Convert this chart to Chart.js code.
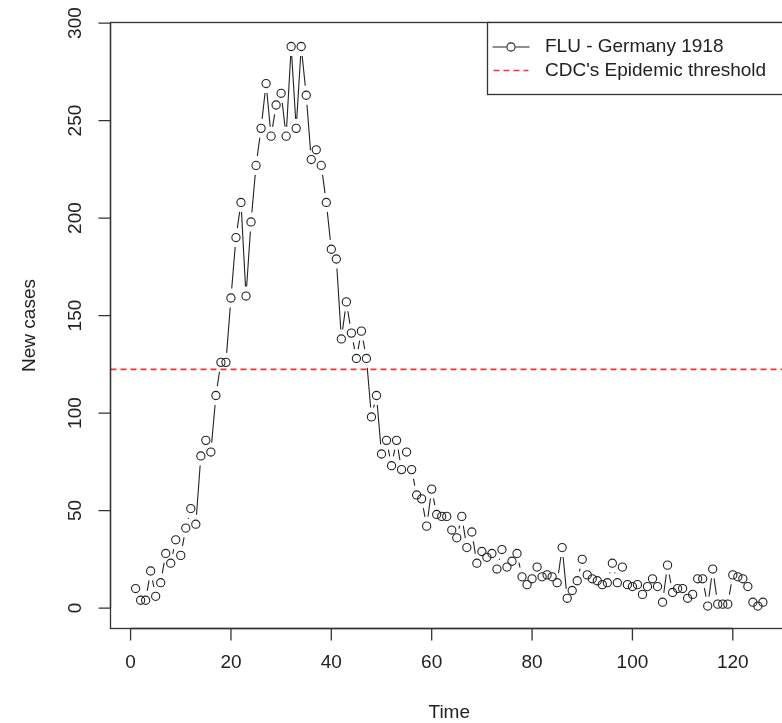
<!DOCTYPE html>
<html>
<head>
<meta charset="utf-8">
<title>FLU - Germany 1918</title>
<script src="https://cdn.jsdelivr.net/npm/chart.js@4.4.1/dist/chart.umd.min.js"></script>
<style>
  html, body { margin: 0; padding: 0; background: #fff; overflow: hidden; }
  #wrap { position: absolute; left: 0; top: 0; width: 800px; height: 723px; }
</style>
</head>
<body>
<div id="wrap"><canvas id="flu" width="800" height="723"></canvas></div>
<script>
// semanas (indice de la serie temporal)
const weeks = Array.from({ length: 126 }, (_, i) => i + 1);

// casos nuevos por semana
const newCases = [
  10, 4, 4, 19, 6, 13, 28, 23, 35, 27,
  41, 51, 43, 78, 86, 80, 109, 126, 126, 159,
  190, 208, 160, 198, 227, 246, 269, 242, 258, 264,
  242, 288, 246, 288, 263, 230, 235, 227, 208, 184,
  179, 138, 157, 141, 128, 142, 128, 98, 109, 79,
  86, 73, 86, 71, 80, 71, 58, 56, 42, 61,
  48, 47, 47, 40, 36, 47, 31, 39, 23, 29,
  26, 28, 20, 30, 21, 24, 28, 16, 12, 15,
  21, 16, 17, 16, 13, 31, 5, 9, 14, 25,
  17, 15, 14, 12, 13, 23, 13, 21, 12, 11,
  12, 7, 11, 15, 11, 3, 22, 8, 10, 10,
  5, 7, 15, 15, 1, 20, 2, 2, 2, 17,
  16, 15, 11, 3, 1, 3
];

const epidemicThreshold = 122.4;

const xTicks = [0, 20, 40, 60, 80, 100, 120];
const yTicks = [0, 50, 100, 150, 200, 250, 300];
const xRange = [-4, 131];
const yRange = [-10.5, 300.3];

const seriesLabel = 'FLU - Germany 1918';
const thresholdLabel = "CDC's Epidemic threshold";
const xTitle = 'Time';
const yTitle = 'New cases';

const FONT = '"Liberation Sans", Arial, Helvetica, sans-serif';
const INK = '#222';
const RED = '#ff3030';

// lineas tipo "b" de R: segmentos con hueco alrededor de cada punto
const segmentosB = {
  id: 'segmentosB',
  beforeDatasetsDraw(chart) {
    const pts = chart.getDatasetMeta(0).data;
    const gap = 9.5;
    const ctx = chart.ctx;
    ctx.save();
    ctx.strokeStyle = INK;
    ctx.lineWidth = 1.1;
    ctx.beginPath();
    for (let i = 1; i < pts.length; i++) {
      const a = pts[i - 1], b = pts[i];
      const dx = b.x - a.x, dy = b.y - a.y;
      const len = Math.hypot(dx, dy);
      if (len <= 2 * gap) continue;
      const ux = dx / len, uy = dy / len;
      ctx.moveTo(a.x + ux * gap, a.y + uy * gap);
      ctx.lineTo(b.x - ux * gap, b.y - uy * gap);
    }
    ctx.stroke();
    ctx.restore();
  }
};

// ejes, caja y leyenda al estilo de R base
const ejesR = {
  id: 'ejesR',
  afterDraw(chart) {
    const ctx = chart.ctx;
    const area = chart.chartArea;
    const sx = chart.scales.x, sy = chart.scales.y;
    ctx.save();
    ctx.strokeStyle = '#333';
    ctx.lineWidth = 1.3;
    ctx.strokeRect(area.left, area.top, area.right - area.left, area.bottom - area.top);

    ctx.fillStyle = INK;
    ctx.font = '19px ' + FONT;

    // eje x
    ctx.beginPath();
    ctx.moveTo(sx.getPixelForValue(xTicks[0]), area.bottom);
    ctx.lineTo(sx.getPixelForValue(xTicks[xTicks.length - 1]), area.bottom);
    xTicks.forEach(v => {
      const px = sx.getPixelForValue(v);
      ctx.moveTo(px, area.bottom);
      ctx.lineTo(px, area.bottom + 12);
    });
    ctx.stroke();
    ctx.textAlign = 'center';
    ctx.textBaseline = 'middle';
    xTicks.forEach(v => ctx.fillText(String(v), sx.getPixelForValue(v), area.bottom + 34));

    // eje y
    ctx.beginPath();
    ctx.moveTo(area.left, sy.getPixelForValue(yTicks[0]));
    ctx.lineTo(area.left, sy.getPixelForValue(yTicks[yTicks.length - 1]));
    yTicks.forEach(v => {
      const py = sy.getPixelForValue(v);
      ctx.moveTo(area.left, py);
      ctx.lineTo(area.left - 12, py);
    });
    ctx.stroke();
    yTicks.forEach(v => {
      ctx.save();
      ctx.translate(area.left - 35, sy.getPixelForValue(v));
      ctx.rotate(-Math.PI / 2);
      ctx.fillText(String(v), 0, 0);
      ctx.restore();
    });

    // titulos
    ctx.fillText(xTitle, (area.left + area.right) / 2, area.bottom + 84);
    ctx.save();
    ctx.translate(30, (area.top + area.bottom) / 2);
    ctx.rotate(-Math.PI / 2);
    ctx.fillText(yTitle, 0, 0);
    ctx.restore();

    // leyenda
    const lx = 487.5, ly = area.top, lw = area.right - lx, lh = 72;
    ctx.fillStyle = '#fff';
    ctx.fillRect(lx, ly, lw, lh);
    ctx.strokeStyle = '#333';
    ctx.strokeRect(lx, ly, lw, lh);
    const row1 = ly + 24.5, row2 = ly + 48;
    ctx.strokeStyle = INK;
    ctx.lineWidth = 1.1;
    ctx.beginPath();
    ctx.moveTo(lx + 5, row1); ctx.lineTo(lx + 19, row1);
    ctx.moveTo(lx + 28, row1); ctx.lineTo(lx + 42, row1);
    ctx.stroke();
    ctx.beginPath();
    ctx.arc(lx + 23.5, row1, 4.1, 0, Math.PI * 2);
    ctx.stroke();
    ctx.strokeStyle = RED;
    ctx.lineWidth = 1.6;
    ctx.setLineDash([6, 4]);
    ctx.beginPath();
    ctx.moveTo(lx + 6, row2); ctx.lineTo(lx + 41, row2);
    ctx.stroke();
    ctx.setLineDash([]);
    ctx.fillStyle = INK;
    ctx.textAlign = 'left';
    ctx.fillText(seriesLabel, lx + 57.5, row1);
    ctx.fillText(thresholdLabel, lx + 57.5, row2);
    ctx.restore();
  }
};

new Chart(document.getElementById('flu'), {
  type: 'scatter',
  data: {
    datasets: [
      {
        label: seriesLabel,
        data: weeks.map((w, i) => ({ x: w, y: newCases[i] })),
        showLine: false,
        pointRadius: 4.1,
        pointHoverRadius: 4.1,
        pointBorderWidth: 1.1,
        pointBorderColor: INK,
        pointBackgroundColor: 'rgba(0,0,0,0)',
        order: 2
      },
      {
        label: thresholdLabel,
        data: [{ x: xRange[0], y: epidemicThreshold }, { x: xRange[1], y: epidemicThreshold }],
        showLine: true,
        borderColor: RED,
        backgroundColor: RED,
        borderWidth: 1.7,
        borderDash: [6, 4],
        fill: false,
        pointRadius: 0,
        order: 1
      }
    ]
  },
  options: {
    responsive: false,
    animation: false,
    devicePixelRatio: 1,
    layout: { padding: { left: 110.5, right: 12, top: 22.5, bottom: 94.5 } },
    scales: {
      x: { type: 'linear', min: xRange[0], max: xRange[1], display: false },
      y: { type: 'linear', min: yRange[0], max: yRange[1], display: false }
    },
    plugins: { legend: { display: false }, tooltip: { enabled: false } }
  },
  plugins: [segmentosB, ejesR]
});
</script>
</body>
</html>
